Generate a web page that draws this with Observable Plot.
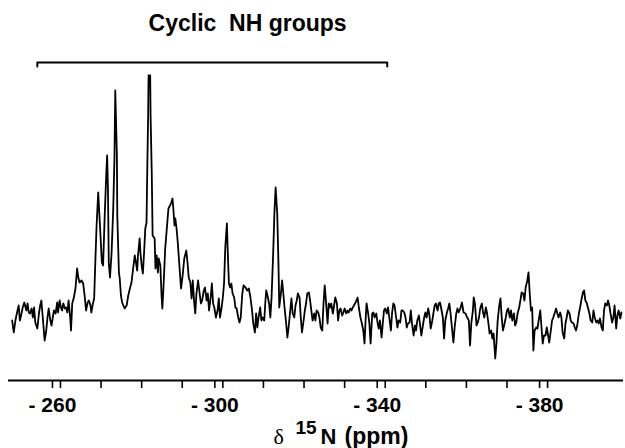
<!DOCTYPE html>
<html><head><meta charset="utf-8">
<script src="https://cdn.jsdelivr.net/npm/d3@7"></script>
<script src="https://cdn.jsdelivr.net/npm/@observablehq/plot@0.6"></script>
<style>html,body{margin:0;padding:0;background:#fff}svg{display:block}</style>
</head><body><div id="chart"></div>
<script>
// 15N chemical shift (ppm)
const ppm = [
-248.1,-248.5,-248.9,-249.3,-249.7,-250.0,-250.3,-250.7,-251.1,-251.6,
-251.9,-252.2,-252.5,-252.9,-253.2,-253.5,-253.8,-254.3,-254.7,-255.0,
-255.3,-255.6,-255.9,-256.1,-256.5,-256.8,-257.1,-257.5,-257.8,-258.1,
-258.4,-258.8,-259.2,-259.4,-259.8,-260.1,-260.4,-260.7,-261.1,-261.4,
-261.7,-262.0,-262.4,-262.6,-262.9,-263.3,-263.7,-264.1,-264.4,-264.7,
-265.2,-265.6,-266.0,-266.3,-266.7,-267.0,-267.4,-267.6,-268.0,-268.3,
-268.6,-268.9,-269.3,-269.6,-269.9,-270.2,-270.5,-270.9,-271.3,-271.5,
-271.7,-271.9,-272.2,-272.6,-273.0,-273.3,-273.5,-273.9,-274.0,-274.4,
-274.6,-274.9,-275.2,-275.8,-276.3,-276.7,-277.1,-277.5,-277.9,-278.3,
-278.6,-278.9,-279.1,-279.5,-279.7,-280.0,-280.3,-280.6,-280.9,-281.2,
-281.4,-281.6,-281.7,-282.1,-282.2,-282.5,-282.7,-283.2,-283.4,-283.7,
-284.0,-284.2,-284.6,-284.9,-285.1,-285.4,-285.8,-286.2,-286.6,-287.0,
-287.3,-287.6,-287.8,-288.1,-288.3,-288.6,-288.9,-289.3,-289.7,-290.1,
-290.5,-291.0,-291.3,-291.6,-292.0,-292.3,-292.6,-292.9,-293.2,-293.5,
-293.9,-294.2,-294.6,-294.9,-295.3,-295.6,-296.0,-296.3,-296.6,-297.0,
-297.3,-297.6,-297.9,-298.3,-298.7,-299.0,-299.3,-299.7,-300.0,-300.3,
-300.6,-301.0,-301.2,-301.5,-301.8,-302.1,-302.4,-302.8,-303.1,-303.4,
-303.8,-304.1,-304.4,-304.8,-305.1,-305.6,-306.0,-306.4,-306.8,-307.2,
-307.5,-307.9,-308.2,-308.5,-308.8,-309.2,-309.5,-309.8,-310.2,-310.5,
-310.7,-311.1,-311.4,-311.7,-312.0,-312.4,-312.7,-313.0,-313.4,-313.7,
-313.9,-314.3,-314.6,-314.9,-315.2,-315.6,-315.9,-316.2,-316.6,-316.9,
-317.2,-317.6,-317.9,-318.2,-318.5,-318.9,-319.2,-319.5,-319.9,-320.2,
-320.5,-320.8,-321.2,-321.5,-321.8,-322.1,-322.5,-322.8,-323.1,-323.5,
-323.8,-324.1,-324.5,-324.8,-325.1,-325.4,-325.8,-326.1,-326.4,-326.7,
-327.1,-327.4,-327.7,-328.1,-328.4,-328.7,-329.0,-329.4,-329.7,-330.0,
-330.4,-330.7,-331.0,-331.4,-331.7,-332.0,-332.3,-332.7,-333.2,-333.5,
-333.9,-334.2,-334.6,-334.9,-335.2,-335.4,-335.8,-336.1,-336.4,-336.8,
-337.1,-337.4,-337.8,-338.1,-338.4,-338.7,-339.1,-339.4,-339.7,-340.0,
-340.4,-340.7,-341.0,-341.4,-341.7,-342.0,-342.3,-342.7,-343.0,-343.3,
-343.7,-344.0,-344.3,-344.7,-345.0,-345.3,-345.6,-346.0,-346.3,-346.6,
-347.0,-347.3,-347.6,-347.9,-348.3,-348.6,-348.9,-349.2,-349.6,-349.9,
-350.2,-350.6,-350.9,-351.2,-351.6,-351.9,-352.2,-352.5,-352.9,-353.2,
-353.5,-353.8,-354.2,-354.5,-354.8,-355.2,-355.5,-355.8,-356.1,-356.5,
-356.8,-357.1,-357.5,-357.8,-358.1,-358.5,-358.9,-359.3,-359.8,-360.2,
-360.6,-360.9,-361.2,-361.6,-361.8,-362.1,-362.5,-362.8,-363.1,-363.4,
-363.8,-364.1,-364.4,-364.8,-365.1,-365.4,-365.7,-366.1,-366.4,-366.7,
-367.1,-367.4,-367.7,-368.1,-368.4,-368.7,-369.0,-369.4,-369.7,-370.0,
-370.3,-370.7,-371.0,-371.3,-371.7,-372.0,-372.3,-372.6,-373.0,-373.3,
-373.6,-374.0,-374.3,-374.6,-375.0,-375.3,-375.6,-375.9,-376.2,-376.5,
-376.8,-377.2,-377.5,-377.8,-378.2,-378.5,-378.8,-379.1,-379.5,-379.8,
-380.1,-380.4,-380.8,-381.1,-381.4,-381.8,-382.1,-382.4,-382.7,-383.1,
-383.4,-383.7,-384.1,-384.4,-384.7,-385.0,-385.4,-385.7,-386.0,-386.4,
-386.7,-387.0,-387.3,-387.7,-388.0,-388.3,-388.7,-389.0,-389.3,-389.6,
-390.0,-390.3,-390.6,-391.0,-391.3,-391.6,-392.0,-392.3,-392.6,-392.9,
-393.3,-393.6,-393.9,-394.2,-394.6,-394.9,-395.2,-395.5,-395.9,-396.2,
-396.5,-396.9,-397.2,-397.5,-397.9,-398.2
];
// signal intensity (arbitrary units)
const intensity = [
25,13,25,33,40,25,30,38,43,35,
42,33,32,37,28,38,23,17,32,40,
45,30,15,5,15,28,37,25,20,28,
35,32,43,33,45,38,35,42,37,38,
33,45,28,15,42,48,57,77,68,63,
65,62,48,35,43,45,40,33,42,47,
85,120,153,130,107,83,80,130,173,190,
157,83,68,93,137,187,255,190,130,73,
67,50,43,37,40,50,57,63,77,90,
83,75,90,107,93,80,72,93,117,123,
180,230,270,270,230,170,110,107,77,90,
73,87,80,50,37,60,97,117,137,140,
143,147,137,120,127,117,103,80,57,70,
87,95,83,68,63,47,65,45,32,52,
65,55,42,45,55,58,45,52,35,48,
62,42,38,28,35,47,28,38,48,62,
98,122,95,62,58,62,52,48,38,37,
28,23,28,52,60,58,55,57,48,35,
22,13,32,18,28,38,25,28,25,45,
55,48,42,28,48,92,132,158,132,82,
38,52,65,52,38,22,8,18,35,47,
32,28,40,45,52,48,28,13,25,35,
42,52,53,45,35,25,32,25,35,33,
28,18,15,42,60,45,22,42,38,42,
32,40,48,42,25,35,37,30,33,37,
32,35,33,37,35,38,40,43,48,38,
28,23,15,2,28,42,32,22,2,32,
33,28,32,23,17,25,8,22,35,37,
32,38,28,15,33,42,40,28,18,25,
23,35,35,33,28,18,22,23,35,22,
10,20,15,25,30,20,10,18,28,33,
28,37,30,17,25,33,40,42,35,42,
43,37,28,7,25,33,37,42,32,15,
3,18,32,37,33,37,43,33,32,28,
25,0,22,35,48,42,20,23,28,37,
42,33,28,38,32,23,12,15,7,12,
-13,2,25,40,47,28,15,22,28,35,
37,28,35,25,32,20,23,32,38,45,
53,52,45,58,65,73,52,35,38,-5,
15,18,17,25,35,18,2,10,10,18,
11,3,15,25,28,33,37,32,28,33,
28,13,7,22,28,35,32,25,23,22,
18,15,20,32,38,45,53,55,45,43,
37,32,25,23,35,28,23,25,22,27,
18,15,35,42,40,45,40,32,23,28,
40,17,30,35,27,33
];
const labeledTicks = [-260, -300, -340, -380];
const minorTicks = [-260, -270, -280, -290, -300, -310, -320, -330, -340, -350, -360, -370, -380];
const bracketRange = [-254.3, -340.5];   // "Cyclic NH groups" region
const bracketLevel = 283;
const bracketDrop = 4;
const titleText = "Cyclic\u00a0\u00a0NH groups";
const titleAt = {x: -306.1, y: 322};
const xDomain = [-247.2, -398.7];
const yDomain = [-35, 345];

const data = ppm.map((x, i) => ({x, y: intensity[i]}));
const bracket = [
  {x: bracketRange[0], y: bracketLevel - bracketDrop},
  {x: bracketRange[0], y: bracketLevel},
  {x: bracketRange[1], y: bracketLevel},
  {x: bracketRange[1], y: bracketLevel - bracketDrop}
];
const FONT = "'Liberation Sans', Arial, Helvetica, sans-serif";

const svg = Plot.plot({
  width: 625, height: 448,
  marginLeft: 8, marginRight: 2, marginTop: 0, marginBottom: 68,
  x: {domain: xDomain},
  y: {domain: yDomain, axis: null},
  style: {fontFamily: FONT, background: "white", color: "black", overflow: "visible"},
  marks: [
    Plot.ruleY([yDomain[0]], {stroke: "black", strokeWidth: 2}),
    Plot.axisX({ticks: minorTicks, tickSize: 8, tickFormat: () => "", label: null, strokeWidth: 1.6}),
    Plot.axisX({ticks: labeledTicks, tickSize: 8, tickPadding: 9, label: null, strokeWidth: 1.6,
      tickFormat: d => "- " + Math.abs(d), fontSize: 21, fontWeight: "bold", dx: -8}),
    Plot.line(data, {x: "x", y: "y", stroke: "black", strokeWidth: 1.8, strokeLinejoin: "round"}),
    Plot.line(bracket, {x: "x", y: "y", stroke: "black", strokeWidth: 2}),
    Plot.text([titleText], {x: () => titleAt.x, y: () => titleAt.y, text: d => d,
      fontSize: 23, fontWeight: "bold", textAnchor: "middle", fill: "black"})
  ]
});

// axis title: δ ¹⁵N (ppm)
const sx = svg.scale("x");
const x0 = sx.apply(-312.6);
const t = d3.select(svg).append("text").attr("y", 444).attr("fill", "black")
  .attr("text-anchor", "start");
t.append("tspan").attr("x", x0).attr("font-family", "'Liberation Serif', 'Times New Roman', serif")
  .attr("font-size", 22).text("δ");
t.append("tspan").attr("x", x0 + 22).attr("dy", -10).attr("font-family", FONT)
  .attr("font-weight", "bold").attr("font-size", 19).text("15");
t.append("tspan").attr("x", x0 + 47).attr("dy", 10).attr("font-family", FONT)
  .attr("font-weight", "bold").attr("font-size", 22).text("N");
t.append("tspan").attr("x", x0 + 71).attr("font-family", FONT)
  .attr("font-weight", "bold").attr("font-size", 23).text("(ppm)");

document.getElementById("chart").appendChild(svg);
</script>
</body></html>
